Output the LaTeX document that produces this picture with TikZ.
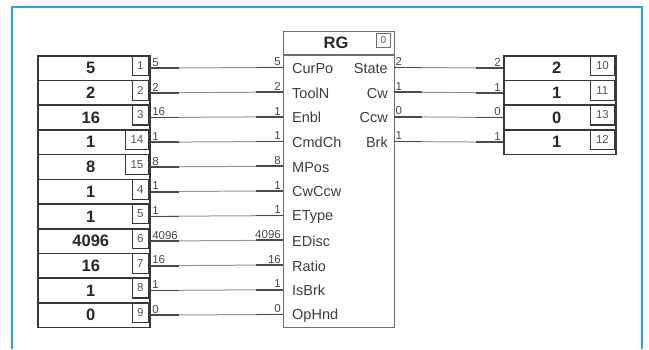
\documentclass[tikz,border=0pt]{standalone}
\usepackage{fontspec}
\setmainfont{Liberation Sans}
\usetikzlibrary{calc}
\definecolor{framec}{RGB}{22,170,230}
\definecolor{linec}{RGB}{55,55,55}
\definecolor{blockc}{RGB}{110,110,110}
\definecolor{thinc}{RGB}{150,150,150}
\definecolor{txtc}{RGB}{40,40,40}
\begin{document}
\begin{tikzpicture}[x=1pt,y=-1pt,
  rowbox/.style={draw=linec, line width=1.6pt, minimum width=112pt, minimum height=24.7pt,
    inner sep=0pt, anchor=north west, font=\fontsize{16.5}{16.5}\selectfont\bfseries, text=txtc},
  idxbox/.style={draw=linec, line width=1.2pt, minimum height=20pt, inner sep=0pt,
    anchor=north east, font=\fontsize{11.5}{11.5}\selectfont, text=txtc!80},
  wl/.style={font=\fontsize{11.5}{11.5}\selectfont, text=txtc!85, inner sep=0.5pt},
  port/.style={font=\fontsize{14.5}{14.5}\selectfont, text=txtc!90, inner sep=0pt},
  thinw/.style={draw=thinc, line width=1pt},
  thickw/.style={draw=linec!90, line width=1.7pt},
  blockline/.style={draw=blockc, line width=1.3pt}]
\useasboundingbox (0,0) rectangle (649,349);
% frame
\draw[framec, line width=2pt] (12,349) -- (12,7) -- (642,7) -- (642,349);
% block
\node[blockline, rectangle, minimum width=111pt, minimum height=296pt, anchor=north west, inner sep=0pt] (blk) at (283,31) {};
\draw[blockline] (283,55) -- (394,55);
\node[font=\fontsize{16.5}{16.5}\selectfont\bfseries, text=txtc] (title) at (336,43) {RG};
\node[draw=blockc, line width=1pt, minimum width=14pt, minimum height=14pt, inner sep=0pt,
  anchor=north east, font=\fontsize{10}{10}\selectfont, text=txtc!80] (blkidx) at (391,33) {0};
% inputs
\foreach \i/\val/\idx/\iw/\wa/\wb/\pname in {
  1/5/1/16/5/5/CurPo, 2/2/2/16/2/2/ToolN, 3/16/3/16/16/1/Enbl, 4/1/14/23/1/1/CmdCh,
  5/8/15/23/8/8/MPos, 6/1/4/16/1/1/CwCcw, 7/1/5/16/1/1/EType, 8/4096/6/16/4096/4096/EDisc,
  9/16/7/16/16/16/Ratio, 10/1/8/16/1/1/IsBrk, 11/0/9/16/0/0/OpHnd}{
  \pgfmathsetmacro{\top}{55+(\i-1)*24.7}
  \pgfmathsetmacro{\cy}{\top+12.35}
  \node[rowbox, text width=104pt, align=center] (in\i) at (37,\top) {\val\hspace*{6pt}};
  \node[idxbox, minimum width=\iw pt] (ix\i) at (149,\top) {\idx};
  \coordinate (pin\i) at (283,\cy);
  \draw[thinw] (in\i.east) -- (pin\i);
  \draw[thickw] (in\i.east) -- ++(28,0);
  \draw[thickw] (pin\i) -- ++(-27,0);
  \node[wl, anchor=south west] at ([xshift=1pt,yshift=1pt]in\i.east) {\wa};
  \node[wl, anchor=south east] at ([xshift=-1.5pt,yshift=1pt]pin\i) {\wb};
  \node[port, anchor=west] (p\i) at (292,\cy+1) {\pname};
}
% outputs
\foreach \i/\val/\idx/\pname in {1/2/10/State, 2/1/11/Cw, 3/0/13/Ccw, 4/1/12/Brk}{
  \pgfmathsetmacro{\top}{55+(\i-1)*24.7}
  \pgfmathsetmacro{\cy}{\top+12.35}
  \coordinate (pout\i) at (394,\cy);
  \node[rowbox, text width=104pt, align=center] (out\i) at (503,\top) {\val\hspace*{6pt}};
  \node[idxbox, minimum width=24pt] (ox\i) at (615,\top) {\idx};
  \draw[thinw] (pout\i) -- (out\i.west);
  \draw[thickw] (pout\i) -- ++(28,0);
  \draw[thickw] (out\i.west) -- ++(-27,0);
  \node[wl, anchor=south west] at ([xshift=1pt,yshift=1pt]pout\i) {\val};
  \node[wl, anchor=south east] at ([xshift=-1.5pt,yshift=1pt]out\i.west) {\val};
  \node[port, anchor=east] (q\i) at (388,\cy+1) {\pname};
}
\end{tikzpicture}
\end{document}
